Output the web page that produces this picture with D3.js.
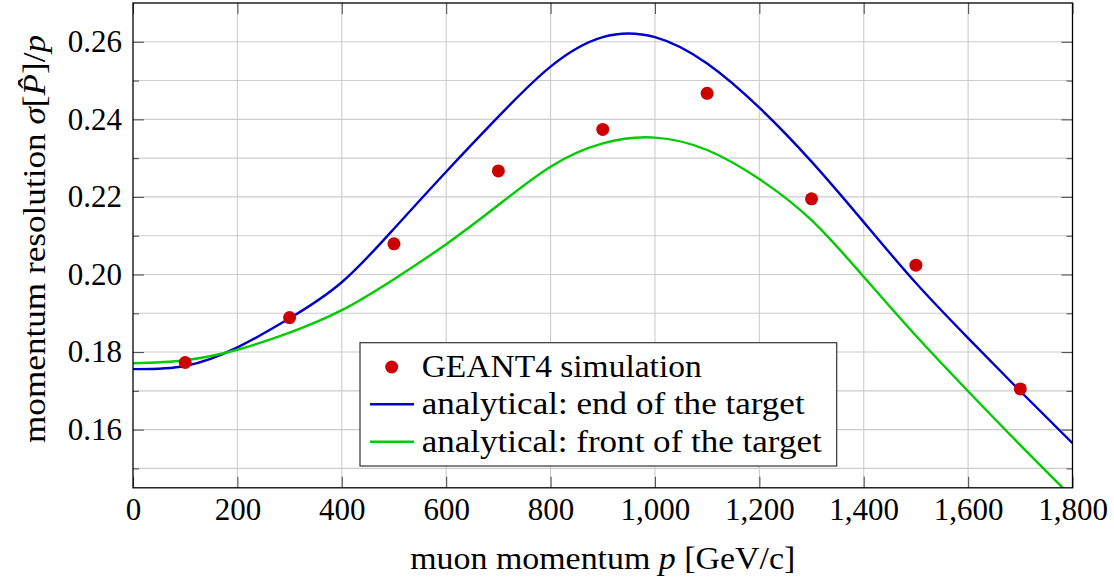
<!DOCTYPE html>
<html>
<head>
<meta charset="utf-8">
<script src="https://cdn.jsdelivr.net/npm/d3@7"></script>
<style>
  html, body { margin: 0; padding: 0; background: #fff; }
  svg { display: block; }
  svg text { font-family: "Liberation Serif", "DejaVu Serif", "Noto Serif", "Times New Roman", serif; }
</style>
</head>
<body>
<svg id="chart" width="1114" height="580"></svg>
<script>
// ---- data ----
const simP   = [100, 300, 500, 700, 900, 1100, 1300, 1500, 1700];
const simRes = [0.1773, 0.1889, 0.2079, 0.2267, 0.2374, 0.2467, 0.2195, 0.2024, 0.1705];

const endP   = [0, 100, 200, 300, 400, 500, 600, 700, 800, 900, 1000, 1100, 1200, 1300, 1400, 1500, 1600, 1700, 1800];
const endRes = [0.1756, 0.1764, 0.1812, 0.1887, 0.1980, 0.2118, 0.2265, 0.2407, 0.2536, 0.2612, 0.2612, 0.2544, 0.2430, 0.2291, 0.2135, 0.1978, 0.1836, 0.1699, 0.1565];

const frontP   = [0, 100, 200, 300, 400, 500, 600, 700, 800, 900, 1000, 1100, 1200, 1300, 1400, 1500, 1600, 1700, 1800];
const frontRes = [0.1771, 0.1779, 0.1806, 0.1850, 0.1908, 0.1988, 0.2078, 0.2179, 0.2278, 0.2338, 0.2353, 0.2321, 0.2246, 0.2140, 0.1994, 0.1842, 0.1699, 0.1560, 0.1425];

const xTicks = [0, 200, 400, 600, 800, 1000, 1200, 1400, 1600, 1800];
const yTicks = [0.16, 0.18, 0.20, 0.22, 0.24, 0.26];
const yMinor = [0.15, 0.17, 0.19, 0.21, 0.23, 0.25];

const legendLabels = ["GEANT4 simulation", "analytical: end of the target", "analytical: front of the target"];

// ---- layout ----
const W = 1114, H = 580;
const m = { left: 133, right: 41.5, top: 3, bottom: 92.2 };
const iw = W - m.left - m.right, ih = H - m.top - m.bottom;
const FONT = "'Liberation Serif', 'DejaVu Serif', 'Noto Serif', serif";

const COL_SIM = "#cc0000", COL_END = "#0000cc", COL_FRONT = "#00cc00";

const svg = d3.select("#chart");
const x = d3.scaleLinear().domain([0, 1800]).range([m.left, m.left + iw]);
const y = d3.scaleLinear().domain([0.145, 0.27]).range([m.top + ih, m.top]);

svg.append("defs").append("clipPath").attr("id", "plotclip")
  .append("rect").attr("x", m.left).attr("y", m.top).attr("width", iw).attr("height", ih);

// grid
const grid = svg.append("g").attr("stroke", "#cccccc").attr("stroke-width", 1.1);
grid.selectAll("line.gx").data(xTicks.slice(1, -1)).join("line")
  .attr("x1", d => x(d)).attr("x2", d => x(d)).attr("y1", m.top).attr("y2", m.top + ih);
grid.selectAll("line.gy").data(yTicks.concat(yMinor)).join("line")
  .attr("y1", d => y(d)).attr("y2", d => y(d)).attr("x1", m.left).attr("x2", m.left + iw);

// axes (ticks inward, labels)
const tickCol = "#555";
const xAxisB = d3.axisBottom(x).tickValues(xTicks).tickFormat(d3.format(",")).tickSizeInner(-11).tickSizeOuter(0).tickPadding(10);
const gxB = svg.append("g").attr("transform", `translate(0,${m.top + ih})`).call(xAxisB);
const xAxisT = d3.axisTop(x).tickValues(xTicks).tickFormat("").tickSizeInner(-11).tickSizeOuter(0);
const gxT = svg.append("g").attr("transform", `translate(0,${m.top})`).call(xAxisT);

const yAxisL = d3.axisLeft(y).tickValues(yTicks).tickFormat(d3.format(".2f")).tickSizeInner(-11).tickSizeOuter(0).tickPadding(11);
const gyL = svg.append("g").attr("transform", `translate(${m.left},0)`).call(yAxisL);
const yAxisR = d3.axisRight(y).tickValues(yTicks).tickFormat("").tickSizeInner(-11).tickSizeOuter(0);
const gyR = svg.append("g").attr("transform", `translate(${m.left + iw},0)`).call(yAxisR);
const yMinL = d3.axisLeft(y).tickValues(yMinor).tickFormat("").tickSizeInner(-6).tickSizeOuter(0);
const gymL = svg.append("g").attr("transform", `translate(${m.left},0)`).call(yMinL);
const yMinR = d3.axisRight(y).tickValues(yMinor).tickFormat("").tickSizeInner(-6).tickSizeOuter(0);
const gymR = svg.append("g").attr("transform", `translate(${m.left + iw},0)`).call(yMinR);

[gxB, gxT, gyL, gyR, gymL, gymR].forEach(g => {
  g.attr("font-family", null).attr("font-size", null);
  g.select(".domain").remove();
  g.selectAll(".tick line").attr("stroke", tickCol).attr("stroke-width", 1.1);
  g.selectAll(".tick text").style("font-family", FONT).attr("font-size", 31).attr("fill", "#000");
});
gxB.selectAll(".tick text").attr("dy", "0.71em");

// curves
const line = d3.line().x(d => x(d[0])).y(d => y(d[1])).curve(d3.curveNatural);
const curves = svg.append("g").attr("clip-path", "url(#plotclip)");
curves.append("path").datum(d3.zip(endP, endRes)).attr("d", line)
  .attr("fill", "none").attr("stroke", COL_END).attr("stroke-width", 2.4);
curves.append("path").datum(d3.zip(frontP, frontRes)).attr("d", line)
  .attr("fill", "none").attr("stroke", COL_FRONT).attr("stroke-width", 2.4);

// frame
svg.append("rect").attr("x", m.left).attr("y", m.top).attr("width", iw).attr("height", ih)
  .attr("fill", "none").attr("stroke", "#000").attr("stroke-width", 1.3);

// points
svg.append("g").selectAll("circle").data(d3.zip(simP, simRes)).join("circle")
  .attr("cx", d => x(d[0])).attr("cy", d => y(d[1])).attr("r", 6.5).attr("fill", COL_SIM);

// legend
const lg = svg.append("g");
const lx = 360, ly = 342.7, lw = 476.7, lh = 123.3;
lg.append("rect").attr("x", lx).attr("y", ly).attr("width", lw).attr("height", lh)
  .attr("fill", "#fff").attr("stroke", "#333").attr("stroke-width", 1.2);
const rowY = [367, 404.3, 441.7];
lg.append("circle").attr("cx", 391.7).attr("cy", rowY[0]).attr("r", 6.5).attr("fill", COL_SIM);
lg.append("line").attr("x1", 370).attr("x2", 414).attr("y1", rowY[1]).attr("y2", rowY[1]).attr("stroke", COL_END).attr("stroke-width", 2.4);
lg.append("line").attr("x1", 370).attr("x2", 414).attr("y1", rowY[2]).attr("y2", rowY[2]).attr("stroke", COL_FRONT).attr("stroke-width", 2.4);
const legW = [280, 383, 400];
lg.selectAll("text").data(legendLabels).join("text")
  .attr("x", 421.7).attr("y", (d, i) => rowY[i] + 10)
  .style("font-family", FONT).attr("font-size", 31).attr("fill", "#000")
  .attr("textLength", (d, i) => legW[i]).attr("lengthAdjust", "spacingAndGlyphs")
  .text(d => d);

// axis titles
const xt = svg.append("text").attr("x", m.left + iw / 2).attr("y", 569).attr("text-anchor", "middle")
  .style("font-family", FONT).attr("font-size", 31).attr("fill", "#000")
  .attr("textLength", 385).attr("lengthAdjust", "spacingAndGlyphs");
xt.append("tspan").text("muon momentum ");
xt.append("tspan").attr("font-style", "italic").text("p");
xt.append("tspan").text(" [GeV/c]");

const yt = svg.append("text").attr("transform", `translate(45,239) rotate(-90)`)
  .attr("text-anchor", "middle").style("font-family", FONT).attr("font-size", 31).attr("fill", "#000")
  .attr("textLength", 408).attr("lengthAdjust", "spacingAndGlyphs");
yt.append("tspan").text("momentum resolution ");
yt.append("tspan").attr("font-style", "italic").text("σ");
yt.append("tspan").text("[");
yt.append("tspan").attr("font-style", "italic").text("P\u0302");
yt.append("tspan").text("]/");
yt.append("tspan").attr("font-style", "italic").text("p");
</script>
</body>
</html>
